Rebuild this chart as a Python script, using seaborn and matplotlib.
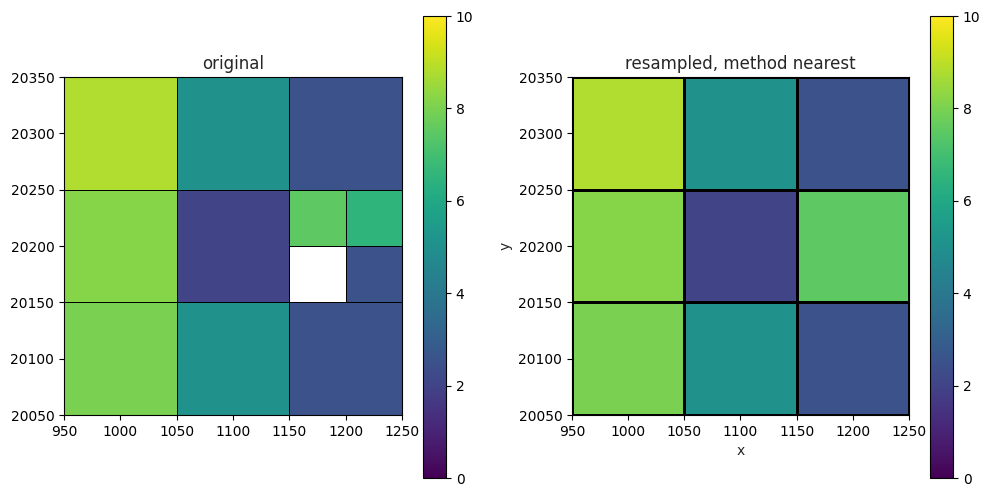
import numpy as np
import matplotlib
matplotlib.use("Agg")
import matplotlib.pyplot as plt
import seaborn as sns

# coarse grid (100 x 100 cells), rows from bottom to top
x_edges = [950, 1050, 1150, 1250]
y_edges = [20050, 20150, 20250, 20350]
coarse_vals = [
    [8.0, 5.0, 2.5],
    [8.2, 2.0, np.nan],
    [8.8, 5.0, 2.5],
]
# refined block inside the middle-right coarse cell (50 x 50 cells)
fine_x_edges = [1150, 1200, 1250]
fine_y_edges = [20150, 20200, 20250]
fine_vals = [
    [np.nan, 2.5],
    [7.5, 6.5],
]
# nearest-neighbour resampled grid
resampled_vals = [
    [8.0, 5.0, 2.5],
    [8.2, 2.0, 7.5],
    [8.8, 5.0, 2.5],
]

sns.set_style("ticks")
plt.rcParams["font.family"] = ["DejaVu Sans"]
cmap = sns.color_palette("viridis", as_cmap=True)

fig = plt.figure(figsize=(9.9, 4.96), dpi=100)
W, H = 990, 496

ax1 = fig.add_axes([64 / W, (H - 415) / H, 338 / W, 338 / H])
cax1 = fig.add_axes([423 / W, 18 / H, 23 / W, 462 / H])
ax2 = fig.add_axes([572 / W, (H - 415) / H, 337 / W, 338 / H])
cax2 = fig.add_axes([930 / W, 18 / H, 23 / W, 462 / H])

m1 = ax1.pcolormesh(x_edges, y_edges, np.ma.masked_invalid(coarse_vals),
                    cmap=cmap, vmin=0, vmax=10, edgecolors="k", linewidth=0.7)
ax1.pcolormesh(fine_x_edges, fine_y_edges, np.ma.masked_invalid(fine_vals),
               cmap=cmap, vmin=0, vmax=10, edgecolors="k", linewidth=0.7)
ax1.set_title("original")
ax1.set_xlim(950, 1250)
ax1.set_ylim(20050, 20350)

m2 = ax2.pcolormesh(x_edges, y_edges, np.array(resampled_vals),
                    cmap=cmap, vmin=0, vmax=10, edgecolors="k", linewidth=2)
ax2.set_title("resampled, method nearest")
ax2.set_xlim(950, 1250)
ax2.set_ylim(20050, 20350)
ax2.set_xlabel("x")
ax2.set_ylabel("y")

for ax in (ax1, ax2):
    ax.set_xticks(np.arange(950, 1251, 50))
    ax.set_yticks(np.arange(20050, 20351, 50))
    for s in ax.spines.values():
        s.set_color("black")
    ax.tick_params(colors="black", labelsize=10)

for m, cax in ((m1, cax1), (m2, cax2)):
    cb = fig.colorbar(m, cax=cax)
    cb.set_ticks([0, 2, 4, 6, 8, 10])
    cb.outline.set_edgecolor("black")
    cax.tick_params(colors="black", labelsize=10)

fig.savefig("out.png", dpi=100)
